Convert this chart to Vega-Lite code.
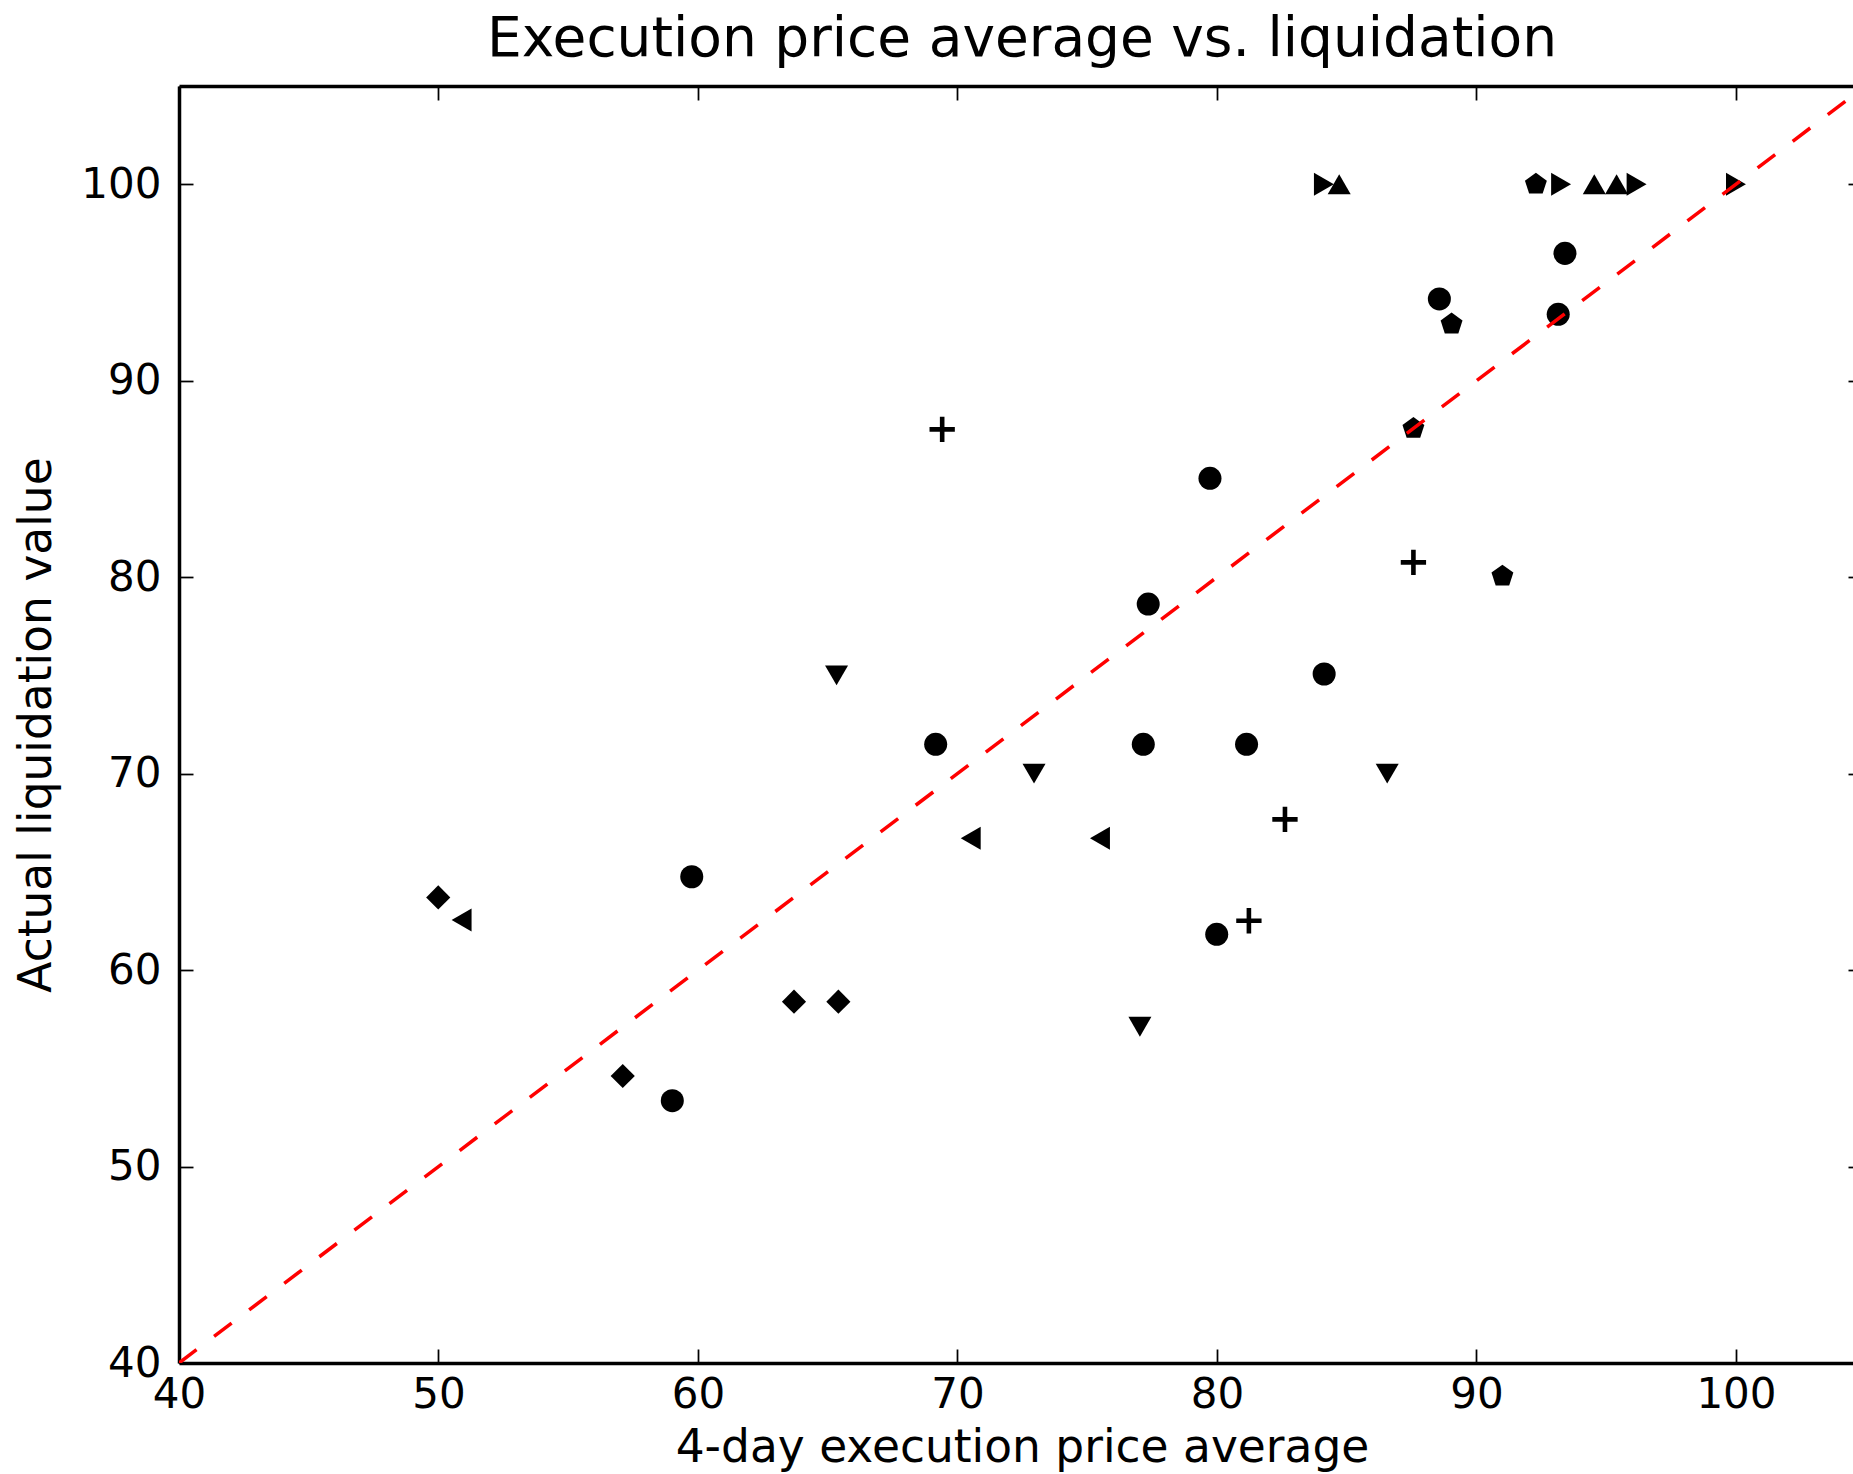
{
  "$schema": "https://vega.github.io/schema/vega-lite/v6.json",
  "width": 1674,
  "height": 1277,
  "autosize": {"type": "none"},
  "padding": {"left": 179, "top": 86, "right": 0, "bottom": 111},
  "background": "white",
  "title": {
    "text": "Execution price average vs. liquidation",
    "font": "DejaVu Sans",
    "fontSize": 55,
    "fontWeight": "normal",
    "color": "black",
    "anchor": "middle",
    "offset": 17,
    "dx": 6
  },
  "config": {
    "view": {"stroke": null},
    "axis": {
      "grid": false,
      "labelFont": "DejaVu Sans",
      "labelFontSize": 42,
      "labelColor": "black",
      "labelFlush": false,
      "labelOverlap": false,
      "titleFont": "DejaVu Sans",
      "titleFontSize": 45.5,
      "titleFontWeight": "normal",
      "titleColor": "black",
      "tickColor": "black",
      "tickWidth": 1.75,
      "domainColor": "black",
      "domainWidth": 3.5
    }
  },
  "resolve": {"axis": {"x": "independent", "y": "independent"}},
  "layer": [
    {
      "data": {
        "values": [
          {"exec_avg": 59.76, "liquidation": 64.75, "marker": "circle"},
          {"exec_avg": 59.01, "liquidation": 53.35, "marker": "circle"},
          {"exec_avg": 69.16, "liquidation": 71.49, "marker": "circle"},
          {"exec_avg": 77.16, "liquidation": 71.49, "marker": "circle"},
          {"exec_avg": 81.14, "liquidation": 71.49, "marker": "circle"},
          {"exec_avg": 77.35, "liquidation": 78.63, "marker": "circle"},
          {"exec_avg": 79.73, "liquidation": 85.03, "marker": "circle"},
          {"exec_avg": 84.13, "liquidation": 75.07, "marker": "circle"},
          {"exec_avg": 79.99, "liquidation": 61.82, "marker": "circle"},
          {"exec_avg": 88.57, "liquidation": 94.16, "marker": "circle"},
          {"exec_avg": 93.41, "liquidation": 96.48, "marker": "circle"},
          {"exec_avg": 93.15, "liquidation": 93.38, "marker": "circle"},
          {"exec_avg": 92.29, "liquidation": 100, "marker": "pentagon"},
          {"exec_avg": 89.04, "liquidation": 92.88, "marker": "pentagon"},
          {"exec_avg": 87.57, "liquidation": 87.57, "marker": "pentagon"},
          {"exec_avg": 91.0, "liquidation": 80.05, "marker": "pentagon"},
          {"exec_avg": 84.71, "liquidation": 100, "marker": "triangle-up"},
          {"exec_avg": 94.54, "liquidation": 100, "marker": "triangle-up"},
          {"exec_avg": 95.4, "liquidation": 100, "marker": "triangle-up"},
          {"exec_avg": 84.12, "liquidation": 100, "marker": "triangle-right"},
          {"exec_avg": 93.26, "liquidation": 100, "marker": "triangle-right"},
          {"exec_avg": 96.17, "liquidation": 100, "marker": "triangle-right"},
          {"exec_avg": 100.0, "liquidation": 100, "marker": "triangle-right"},
          {"exec_avg": 65.34, "liquidation": 75.0, "marker": "triangle-down"},
          {"exec_avg": 72.95, "liquidation": 70.0, "marker": "triangle-down"},
          {"exec_avg": 86.56, "liquidation": 70.0, "marker": "triangle-down"},
          {"exec_avg": 77.03, "liquidation": 57.12, "marker": "triangle-down"},
          {"exec_avg": 70.51, "liquidation": 66.71, "marker": "triangle-left"},
          {"exec_avg": 75.49, "liquidation": 66.71, "marker": "triangle-left"},
          {"exec_avg": 50.89, "liquidation": 62.55, "marker": "triangle-left"},
          {"exec_avg": 49.99, "liquidation": 63.7, "marker": "diamond"},
          {"exec_avg": 63.7, "liquidation": 58.39, "marker": "diamond"},
          {"exec_avg": 65.41, "liquidation": 58.39, "marker": "diamond"},
          {"exec_avg": 57.1, "liquidation": 54.61, "marker": "diamond"},
          {"exec_avg": 69.41, "liquidation": 87.52, "marker": "plus"},
          {"exec_avg": 87.57, "liquidation": 80.75, "marker": "plus"},
          {"exec_avg": 82.62, "liquidation": 67.67, "marker": "plus"},
          {"exec_avg": 81.23, "liquidation": 62.51, "marker": "plus"}
        ]
      },
      "mark": {"type": "point", "filled": true, "opacity": 1, "size": 530, "color": "black", "stroke": null},
      "encoding": {
        "x": {
          "field": "exec_avg",
          "type": "quantitative",
          "scale": {"domain": [40, 104.51], "nice": false, "zero": false},
          "axis": {
            "orient": "bottom",
            "title": "4-day execution price average",
            "titleX": 843,
            "titlePadding": 10,
            "values": [40, 50, 60, 70, 80, 90, 100],
            "tickSize": -14,
            "labelPadding": 25.5
          }
        },
        "y": {
          "field": "liquidation",
          "type": "quantitative",
          "scale": {"domain": [40, 105], "nice": false, "zero": false},
          "axis": {
            "orient": "left",
            "title": "Actual liquidation value",
            "titlePadding": 20,
            "values": [40, 50, 60, 70, 80, 90, 100],
            "tickSize": -14,
            "labelPadding": 32
          }
        },
        "shape": {
          "field": "marker",
          "type": "nominal",
          "legend": null,
          "scale": {
            "domain": ["circle", "pentagon", "triangle-up", "triangle-right", "triangle-down", "triangle-left", "diamond", "plus"],
            "range": [
              "circle",
              "M0,-1L0.951,-0.309L0.588,0.809L-0.588,0.809L-0.951,-0.309Z",
              "triangle-up",
              "triangle-right",
              "triangle-down",
              "triangle-left",
              "M0,-1.05L1.05,0L0,1.05L-1.05,0Z",
              "M-1.1,-0.2L-0.2,-0.2L-0.2,-1.1L0.2,-1.1L0.2,-0.2L1.1,-0.2L1.1,0.2L0.2,0.2L0.2,1.1L-0.2,1.1L-0.2,0.2L-1.1,0.2Z"
            ]
          }
        }
      }
    },
    {
      "data": {"values": [{"exec_avg": 40, "liquidation": 40}, {"exec_avg": 105, "liquidation": 105}]},
      "mark": {"type": "line", "color": "#ff0000", "strokeWidth": 3.5, "strokeDash": [22, 22], "clip": true},
      "encoding": {
        "x": {
          "field": "exec_avg",
          "type": "quantitative",
          "scale": {"domain": [40, 104.51], "nice": false, "zero": false},
          "axis": {
            "orient": "top",
            "title": null,
            "labels": false,
            "values": [40, 50, 60, 70, 80, 90, 100],
            "tickSize": -14
          }
        },
        "y": {
          "field": "liquidation",
          "type": "quantitative",
          "scale": {"domain": [40, 105], "nice": false, "zero": false},
          "axis": {
            "orient": "right",
            "title": null,
            "labels": false,
            "domain": false,
            "values": [40, 50, 60, 70, 80, 90, 100],
            "tickSize": -5
          }
        }
      }
    }
  ]
}
